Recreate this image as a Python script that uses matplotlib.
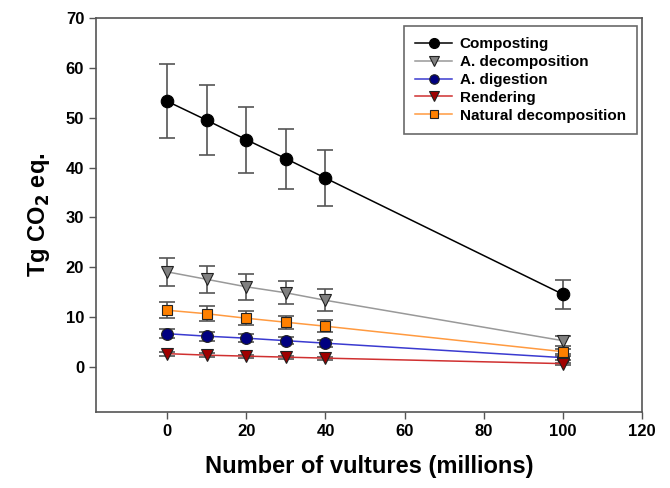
import matplotlib
matplotlib.use("Agg")
import matplotlib.pyplot as plt

plt.rcParams['font.family'] = ['Liberation Sans', 'DejaVu Sans']

# data
vultures = [0, 10, 20, 30, 40, 100]
composting = [53.3, 49.5, 45.6, 41.8, 37.9, 14.6]
composting_err = [7.4, 7.0, 6.6, 6.0, 5.6, 2.9]
a_decomp = [19.1, 17.6, 16.1, 14.9, 13.4, 5.3]
a_decomp_err = [2.8, 2.7, 2.6, 2.3, 2.2, 1.0]
a_digestion = [6.7, 6.2, 5.8, 5.3, 4.8, 1.9]
a_digestion_err = [0.9, 0.9, 0.8, 0.7, 0.7, 0.4]
rendering = [2.7, 2.4, 2.2, 2.0, 1.8, 0.7]
rendering_err = [0.4, 0.4, 0.3, 0.3, 0.3, 0.2]
natural = [11.4, 10.7, 9.8, 9.0, 8.2, 3.1]
natural_err = [1.6, 1.5, 1.4, 1.3, 1.2, 0.5]

fig = plt.figure(figsize=(6.7, 4.88), dpi=100)
ax = fig.add_axes([96/670, 1 - 412/488, (642-96)/670, (412-18)/488])

series = [
    ("Composting", composting, composting_err, 'o', 'black', 'black', 9),
    ("A. decomposition", a_decomp, a_decomp_err, 'v', '#999999', '#808080', 8.5),
    ("A. digestion", a_digestion, a_digestion_err, 'o', '#3a3ad0', '#000080', 8.5),
    ("Rendering", rendering, rendering_err, 'v', '#d03030', '#a00000', 8.5),
    ("Natural decomposition", natural, natural_err, 's', '#ff9a40', '#ff8000', 7.5),
]

#error bars first, then lines with markers
for name, vals, err, mk, lc, mc, ms in series:
    ax.errorbar(vultures, vals, yerr=err, fmt='none', ecolor='#555555',
                elinewidth=1.2, capsize=6, capthick=1.2, zorder=2)
for name, vals, err, mk, lc, mc, ms in series:
    ax.plot(vultures, vals, color=lc, linewidth=1.1, marker=mk, markersize=ms,
            markerfacecolor=mc, markeredgecolor='#222222' if mc != 'black' else 'black',
            markeredgewidth=0.8, label=name, zorder=3)

ax.set_xlim(-18, 120)
ax.set_ylim(-9, 70)
ax.set_xticks(range(0, 121, 20))
ax.set_yticks(range(0, 71, 10))
ax.tick_params(direction='out', length=5, width=1, color='#555555', labelsize=12)
for lab in ax.get_xticklabels() + ax.get_yticklabels():
    lab.set_fontweight('bold')
for sp in ax.spines.values():
    sp.set_color('#555555')
    sp.set_linewidth(1.2)

ax.set_xlabel("Number of vultures (millions)", fontsize=17, fontweight='bold', labelpad=12)
ax.set_ylabel("Tg CO$_\\mathbf{2}$ eq.", fontsize=17, fontweight='bold', labelpad=10)

leg = ax.legend(loc='upper right', prop={'weight': 'bold', 'size': 11},
                frameon=True, fancybox=False, edgecolor='#444444',
                borderpad=0.75, handlelength=2.4, handletextpad=0.5,
                labelspacing=0.25, markerscale=0.8, borderaxespad=0,
                bbox_to_anchor=(0.991, 0.980))
leg.get_frame().set_linewidth(1.2)

fig.savefig("out.png", dpi=100)
